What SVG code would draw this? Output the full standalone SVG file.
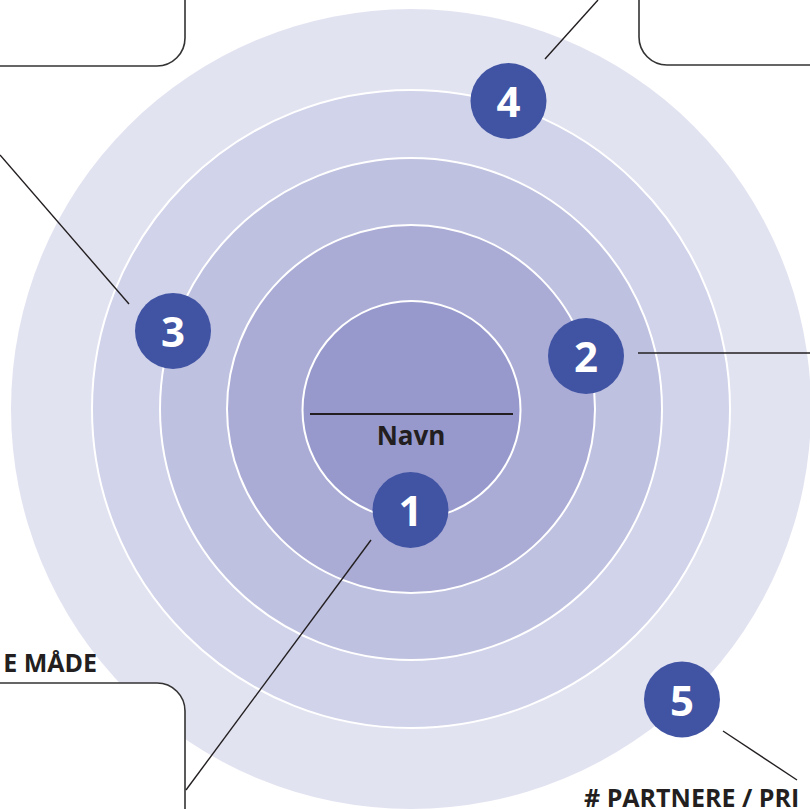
<svg xmlns="http://www.w3.org/2000/svg" width="810" height="809" viewBox="0 0 810 809">
<style>
.ring{stroke:#ffffff;stroke-width:2}
.box{fill:#ffffff;stroke:#333333;stroke-width:1.6}
.ln{stroke:#231f20;stroke-width:1.4;fill:none}
.badge{fill:#4154a4}
.num{font-family:"Open Sans","Noto Sans",sans-serif;font-weight:700;font-size:42px;fill:#ffffff;text-anchor:middle}
.lbl{font-family:"Open Sans","Noto Sans",sans-serif;font-weight:700;font-size:25px;fill:#231f20}
</style>
<rect width="810" height="809" fill="#ffffff"/>
<g id="rings">
<circle cx="411" cy="409" r="400" fill="#e2e3f1"/>
<circle class="ring" cx="411" cy="409" r="319" fill="#d0d3ea"/>
<circle class="ring" cx="411" cy="409" r="251" fill="#bfc1e0"/>
<circle class="ring" cx="411" cy="409" r="184" fill="#abacd6"/>
<circle class="ring" cx="411.5" cy="410" r="109" fill="#9799cc"/>
</g>
<g id="center-label">
<line x1="310" y1="414" x2="513" y2="414" stroke="#231f20" stroke-width="2"/>
<text x="411" y="445" font-family="'Open Sans','Noto Sans',sans-serif" font-weight="700" font-size="26" fill="#231f20" text-anchor="middle">Navn</text>
</g>
<g id="box-top-left"><rect class="box" x="-40" y="-40" width="225" height="106" rx="28"/></g>
<g id="box-top-right"><rect class="box" x="639" y="-40" width="220" height="105" rx="28"/></g>
<g id="box-bottom-left"><rect class="box" x="-40" y="683" width="225" height="180" rx="28"/></g>
<g id="connectors">
<line class="ln" x1="371" y1="540" x2="186" y2="790"/>
<line class="ln" x1="638" y1="353" x2="810" y2="353"/>
<line class="ln" x1="0" y1="155" x2="129" y2="304"/>
<line class="ln" x1="545" y1="59" x2="598" y2="0"/>
<line class="ln" x1="723" y1="731" x2="797" y2="780"/>
</g>
<g id="badge-1"><circle class="badge" cx="410.5" cy="510" r="38"/><text class="num" x="410.5" y="526">1</text></g>
<g id="badge-2"><circle class="badge" cx="586" cy="356" r="38"/><text class="num" x="586" y="372">2</text></g>
<g id="badge-3"><circle class="badge" cx="173" cy="331" r="38"/><text class="num" x="173" y="347">3</text></g>
<g id="badge-4"><circle class="badge" cx="508.5" cy="101" r="38"/><text class="num" x="508.5" y="117">4</text></g>
<g id="badge-5"><circle class="badge" cx="682" cy="699.5" r="38"/><text class="num" x="682" y="715.5">5</text></g>
<g id="labels">
<text class="lbl" x="97" y="672" text-anchor="end">E MÅDE</text>
<text class="lbl" x="584" y="807">#&#160;PARTNERE / PRI</text>
</g>
</svg>
